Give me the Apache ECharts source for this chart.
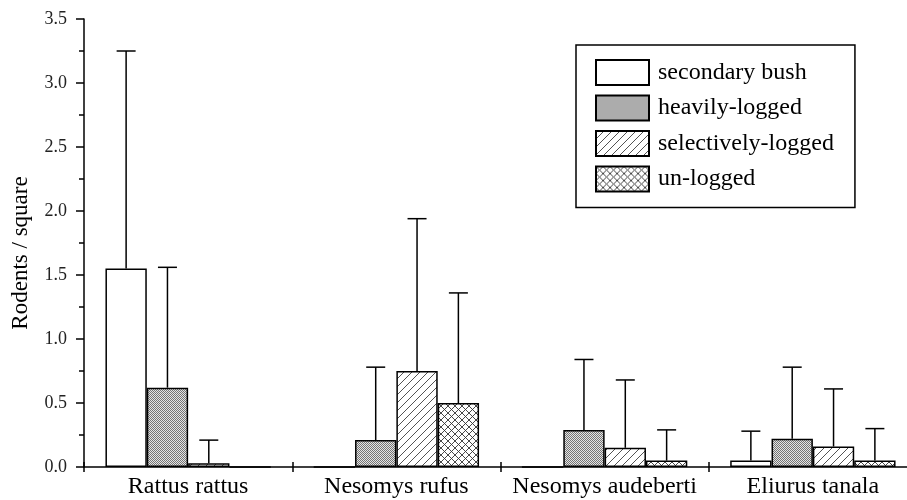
<!DOCTYPE html>
<html>
<head>
<meta charset="utf-8">
<script src="https://cdn.jsdelivr.net/npm/echarts@6/dist/echarts.min.js"></script>
<style>
html,body{margin:0;padding:0;background:#fff;}
#chart{width:907px;height:500px;}
</style>
</head>
<body>
<div id="chart"></div>
<script>
const categories = ['Rattus rattus', 'Nesomys rufus', 'Nesomys audeberti', 'Eliurus tanala'];
const seriesNames = ['secondary bush', 'heavily-logged', 'selectively-logged', 'un-logged'];
const secondaryBush = [1.55, 0, 0, 0.05];
const secondaryBushErr = [3.25, null, null, 0.28];
const heavilyLogged = [0.62, 0.21, 0.29, 0.22];
const heavilyLoggedErr = [1.56, 0.78, 0.84, 0.78];
const selectivelyLogged = [0.03, 0.75, 0.15, 0.16];
const selectivelyLoggedErr = [0.21, 1.94, 0.68, 0.61];
const unLogged = [0, 0.50, 0.05, 0.05];
const unLoggedErr = [null, 1.36, 0.29, 0.30];
const yTicks = [0, 0.5, 1.0, 1.5, 2.0, 2.5, 3.0, 3.5];

const FONT = '"Liberation Serif", "Times New Roman", serif';
const CAT_GAP = 0.206;

function makeCanvas(w, h, draw) {
  const c = document.createElement('canvas');
  c.width = w; c.height = h;
  const ctx = c.getContext('2d');
  ctx.fillStyle = '#fff';
  ctx.fillRect(0, 0, w, h);
  draw(ctx, w, h);
  return c;
}
const dotPattern = makeCanvas(2, 2, (ctx) => {
  ctx.fillStyle = '#e4e4e4';
  ctx.fillRect(0, 0, 2, 2);
  ctx.fillStyle = '#747474';
  ctx.fillRect(0, 0, 1, 1);
  ctx.fillRect(1, 1, 1, 1);
});
const diagPattern = makeCanvas(8, 8, (ctx, w, h) => {
  ctx.strokeStyle = '#404040';
  ctx.lineWidth = 0.9;
  ctx.beginPath();
  ctx.moveTo(-1, h + 1); ctx.lineTo(w + 1, -1);
  ctx.moveTo(-1, 1); ctx.lineTo(1, -1);
  ctx.moveTo(w - 1, h + 1); ctx.lineTo(w + 1, h - 1);
  ctx.stroke();
});
const crossPattern = makeCanvas(7, 7, (ctx, w, h) => {
  ctx.strokeStyle = '#333';
  ctx.lineWidth = 0.9;
  ctx.beginPath();
  ctx.moveTo(-1, h + 1); ctx.lineTo(w + 1, -1);
  ctx.moveTo(-1, 1); ctx.lineTo(1, -1);
  ctx.moveTo(w - 1, h + 1); ctx.lineTo(w + 1, h - 1);
  ctx.moveTo(-1, -1); ctx.lineTo(w + 1, h + 1);
  ctx.moveTo(-1, h - 1); ctx.lineTo(1, h + 1);
  ctx.moveTo(w - 1, -1); ctx.lineTo(w + 1, 1);
  ctx.stroke();
});

const fills = [
  '#ffffff',
  { image: dotPattern, repeat: 'repeat' },
  { image: diagPattern, repeat: 'repeat' },
  { image: crossPattern, repeat: 'repeat' }
];
const values = [secondaryBush, heavilyLogged, selectivelyLogged, unLogged];
const errs = [secondaryBushErr, heavilyLoggedErr, selectivelyLoggedErr, unLoggedErr];

const series = [];
seriesNames.forEach((name, i) => {
  series.push({
    name: name,
    type: 'bar',
    data: values[i],
    barGap: '0%',
    barCategoryGap: (CAT_GAP * 100) + '%',
    itemStyle: { color: fills[i], borderColor: '#000', borderWidth: 1.5 },
    emphasis: { disabled: true },
    z: 2
  });
});
seriesNames.forEach((name, i) => {
  const data = [];
  categories.forEach((c, k) => {
    if (errs[i][k] != null) data.push([k, values[i][k], errs[i][k]]);
  });
  series.push({
    name: name + ' err',
    type: 'custom',
    data: data,
    z: 3,
    silent: true,
    encode: { x: 0, y: [1, 2] },
    renderItem: function (params, api) {
      const k = api.value(0);
      const base = api.coord([k, api.value(1)]);
      const top = api.coord([k, api.value(2)]);
      const band = api.size([1, 0])[0];
      const barW = band * (1 - CAT_GAP) / 4;
      const cx = base[0] + (i - 1.5) * barW;
      const capHalf = 9.5;
      const style = { stroke: '#000', lineWidth: 1.5, fill: null };
      return {
        type: 'group',
        children: [
          { type: 'line', shape: { x1: cx, y1: base[1], x2: cx, y2: top[1] }, style: style },
          { type: 'line', shape: { x1: cx - capHalf, y1: top[1], x2: cx + capHalf, y2: top[1] }, style: style }
        ]
      };
    }
  });
});

const chart = echarts.init(document.getElementById('chart'), null, { renderer: 'canvas' });
chart.setOption({
  animation: false,
  backgroundColor: '#fff',
  textStyle: { fontFamily: FONT },
  grid: { left: 84, right: -10, top: 19, bottom: 33, containLabel: false, outerBoundsMode: 'none' },
  legend: {
    data: seriesNames,
    orient: 'vertical',
    left: 576,
    top: 45,
    icon: 'rect',
    itemWidth: 53,
    itemHeight: 25,
    itemGap: 8.5,
    padding: [14, 21, 15, 19],
    borderColor: '#000',
    borderWidth: 1.5,
    borderRadius: 0,
    selectedMode: false,
    textStyle: { fontFamily: FONT, fontSize: 24, color: '#000', padding: [0, 0, 0, 4] }
  },
  xAxis: [{
    type: 'category',
    data: categories,
    axisLine: { lineStyle: { color: '#000', width: 1.5 } },
    axisTick: { show: true, length: 5, lineStyle: { color: '#000', width: 1.5 } },
    axisLabel: { fontFamily: FONT, fontSize: 24, color: '#000', margin: 8, interval: 0, hideOverlap: false },
    splitLine: { show: false }
  }, {
    type: 'category',
    data: categories,
    position: 'bottom',
    axisLine: { show: false },
    axisTick: { show: true, inside: true, length: 5, lineStyle: { color: '#000', width: 1.5 } },
    axisLabel: { show: false },
    splitLine: { show: false }
  }],
  yAxis: {
    type: 'value',
    min: yTicks[0],
    max: yTicks[yTicks.length - 1],
    interval: 0.5,
    name: 'Rodents / square',
    nameLocation: 'middle',
    nameGap: 52,
    nameTextStyle: { fontFamily: FONT, fontSize: 23, color: '#000', padding: [0, 20, 0, 0] },
    axisLine: { show: true, lineStyle: { color: '#000', width: 1.5 } },
    axisTick: { show: true, length: 8, lineStyle: { color: '#000', width: 1.5 } },
    minorTick: { show: true, splitNumber: 2, length: 5, lineStyle: { color: '#000', width: 1.5 } },
    axisLabel: { fontFamily: FONT, fontSize: 18, color: '#222', margin: 17, formatter: (v) => v.toFixed(1) },
    splitLine: { show: false },
    minorSplitLine: { show: false }
  },
  series: series
});
</script>
</body>
</html>
